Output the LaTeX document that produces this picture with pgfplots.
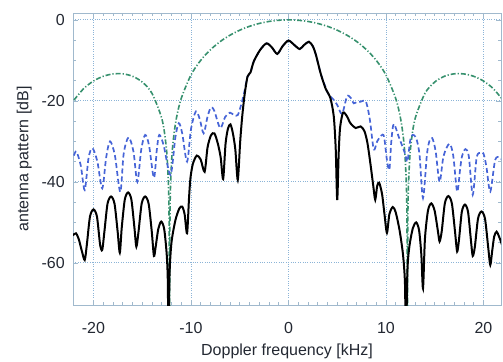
\documentclass[border=0pt]{standalone}
\usepackage{fontspec}
\setmainfont{Liberation Sans}
\usepackage{pgfplots}
\pgfplotsset{compat=1.18}
\definecolor{axcol}{RGB}{160,185,205}
\definecolor{gridcol}{RGB}{140,180,215}
\definecolor{bluedash}{RGB}{70,100,215}
\definecolor{greendd}{RGB}{55,145,110}
\definecolor{txt}{RGB}{35,40,50}
\begin{document}
\fontsize{16bp}{19bp}\selectfont
\begin{tikzpicture}
\useasboundingbox (-73bp,-57bp) rectangle (430bp,305bp);
\begin{axis}[
 at={(0,0)}, anchor=south west,
 scale only axis, width=428bp, height=292bp,
 xmin=-22.1, xmax=21.8, ymin=-70.4, ymax=1.7,
 xtick={-20,-10,0,10,20}, ytick={-60,-40,-20,0},
 minor x tick num=9, minor y tick num=3,
 major tick length=5bp, minor tick length=3bp,
 grid=major, major grid style={dotted, line width=0.9bp, color=gridcol},
 axis line style={color=axcol, line width=0.8bp},
 tick style={color=axcol, line width=0.6bp},
 tick label style={font=\fontsize{16bp}{19bp}\selectfont, text=txt},
 label style={font=\fontsize{16bp}{19bp}\selectfont, text=txt},
 /pgf/number format/assume math mode=true,
 xticklabel style={yshift=-12bp},
 yticklabel style={xshift=-2.7bp},
 xlabel={Doppler frequency [kHz]},
 ylabel={antenna pattern [dB]},
 xlabel style={at={(axis description cs:0.5,0)}, anchor=base, yshift=-50bp},
 ylabel style={at={(axis description cs:-0.1044,0.5)}, anchor=base},
]
% green dash-dot
\addplot[greendd, line width=1.6bp, dash pattern=on 5bp off 2bp on 1.2bp off 2bp, smooth, tension=0.5] coordinates {
(-22,-19.80) (-21,-16.96) (-20,-15.09) (-19,-13.93) (-18,-13.35) (-17,-13.32) (-16,-13.92) (-15,-15.35) (-14,-18.13) (-13,-24.3) (-12.6,-30.0) (-12.4,-35.9) (-12.25,-47.8) (-12.2,-85)
};
\addplot[greendd, line width=1.6bp, dash pattern=on 5bp off 2bp on 1.2bp off 2bp, smooth, tension=0.5] coordinates {
(-12.2,-85) (-12.15,-47.7) (-12.0,-35.5) (-11.8,-29.4) (-11.5,-24.37) (-11,-19.40) (-10,-13.61) (-9,-9.98) (-8,-7.365) (-7,-5.352) (-6,-3.781) (-5,-2.546) (-4,-1.594) (-3,-0.882) (-2,-0.388) (-1,-0.096) (0,0)
(1,-0.096) (2,-0.388) (3,-0.882) (4,-1.594) (5,-2.546) (6,-3.781) (7,-5.352) (8,-7.365) (9,-9.98) (10,-13.61) (11,-19.40) (11.5,-24.37) (11.8,-29.4) (12.0,-35.5) (12.15,-47.7) (12.2,-85)
};
\addplot[greendd, line width=1.6bp, dash pattern=on 5bp off 2bp on 1.2bp off 2bp, smooth, tension=0.5] coordinates {
(12.2,-85) (12.25,-47.8) (12.4,-35.9) (12.6,-30.0) (13,-24.3) (14,-18.13) (15,-15.35) (16,-13.92) (17,-13.32) (18,-13.35) (19,-13.93) (20,-15.09) (21,-16.96) (22,-19.80)
};
% blue dashed
\addplot[bluedash, line width=1.7bp, dash pattern=on 5bp off 3bp, smooth, tension=0.5] coordinates {
(-22.0,-33.5) (-21.75,-32.5) (-21.3,-36) (-20.9,-42) (-20.5,-34) (-20.1,-31.7) (-19.6,-35) (-19.1,-41.6)
(-18.7,-34) (-18.3,-30) (-17.8,-33.5) (-17.25,-42.5) (-16.9,-33) (-16.4,-29) (-15.9,-32.5) (-15.5,-40)
(-15.1,-32) (-14.7,-28.4) (-14.3,-31) (-13.8,-39) (-13.5,-32) (-13.25,-28.4) (-12.8,-31) (-12.1,-38.3)
(-11.6,-29) (-11.25,-25.5) (-10.9,-28) (-10.4,-35) (-10.0,-27) (-9.5,-22.6) (-9.1,-24.5) (-8.7,-28)
(-8.3,-23.9) (-7.95,-21.6) (-7.6,-22.5) (-7.0,-26.7) (-6.5,-24) (-6.0,-22.9) (-5.6,-23.5) (-5.2,-23.5)
(-4.8,-20.5) (-4.5,-17.5) (-4.2,-14.0) (-3.9,-13.0) (-3.55,-10.2) (-2.9,-7.4) (-2.25,-5.8) (-1.7,-6.8)
(-1.15,-8.4) (-0.6,-6.5) (0.0,-5.1) (0.6,-6.2) (1.15,-7.2) (1.6,-6.2) (2.1,-5.4) (2.5,-6.5) (2.8,-8.5)
(3.3,-13.2) (3.8,-16.6) (4.13,-18.5) (4.6,-19.6) (5.0,-21) (5.5,-23.2) (6.0,-18.9) (6.4,-19.3)
(6.7,-20.6) (7.05,-20.2) (7.4,-20.2) (7.9,-20.0) (8.2,-22.6) (8.4,-25.5) (8.75,-32) (9.1,-30)
(9.5,-28.6) (9.8,-28.8) (10.1,-34.6) (10.35,-37) (10.55,-30) (10.8,-25.7) (11.3,-28.8) (11.7,-31.3)
(12.0,-33.3) (12.2,-35) (12.5,-29.6) (12.75,-28.4) (13.0,-28.8) (13.2,-30) (13.45,-33.5) (13.8,-44)
(14.2,-33.3) (14.45,-30) (14.75,-29.2) (15.1,-32.5) (15.5,-40) (15.9,-33.7) (16.5,-30.6) (16.9,-33.5)
(17.3,-42.4) (17.6,-37) (17.8,-33.7) (18.15,-31.9) (18.5,-33.7) (18.9,-43.2) (19.3,-34) (19.7,-32.8)
(20.0,-33) (20.3,-36.2) (20.7,-42.4) (21.2,-34.6) (21.7,-34.0) (22.0,-35)
};
% black solid
\addplot[black, line width=2bp, smooth, tension=0.45] coordinates {
(-22.1,-53.2) (-21.8,-52.7) (-21.5,-54.2) (-21.2,-57) (-20.9,-59.3)
(-20.68,-55.5) (-20.36,-48.6) (-20.0,-46.8) (-19.64,-48.6) (-19.32,-55.5) (-19.1,-56.8)
(-18.88,-52.3) (-18.56,-45.4) (-18.2,-43.6) (-17.84,-45.4) (-17.52,-52.3) (-17.3,-57.5)
(-17.1,-51.3) (-16.79,-44.4) (-16.45,-42.6) (-16.11,-44.4) (-15.8,-51.3) (-15.6,-56)
(-15.38,-52.3) (-15.06,-45.4) (-14.7,-43.6) (-14.34,-45.4) (-14.02,-52.3) (-13.8,-58.3)
(-13.62,-56) (-13.35,-51.6) (-13.05,-49.8) (-12.75,-51.6) (-12.5,-57.5) (-12.38,-64) (-12.3,-80) (-12.2,-63)
(-12.0,-55) (-11.6,-49.5) (-11.2,-46.6) (-10.9,-46.1) (-10.65,-48) (-10.4,-52.7)
(-10.2,-44) (-10.05,-39) (-9.8,-35.5) (-9.4,-33.5) (-9.0,-34.5) (-8.6,-37.5)
(-8.3,-31.5) (-7.95,-28.5) (-7.6,-28) (-7.25,-30.5) (-6.95,-34) (-6.7,-39.3)
(-6.45,-30.5) (-6.2,-26.8) (-5.95,-25.8) (-5.7,-28) (-5.45,-32) (-5.2,-39.5) (-4.95,-30)
(-4.75,-24) (-4.5,-18.5) (-4.2,-14.0) (-3.9,-13.0) (-3.55,-10.2) (-2.9,-7.4) (-2.25,-5.8) (-1.7,-6.8)
(-1.15,-8.4) (-0.6,-6.5) (0.0,-5.1) (0.6,-6.2) (1.15,-7.2) (1.6,-6.2) (2.1,-5.4) (2.5,-6.5) (2.8,-8.5)
(3.3,-13.2) (3.8,-16.9) (4.3,-19.3) (4.65,-23.9) (4.85,-32) (5.0,-44.5) (5.15,-33) (5.3,-26.5) (5.6,-22.9)
(6.0,-23.8) (6.35,-25.5) (6.9,-26.7) (7.4,-26.3) (7.8,-27.5) (8.1,-30.4) (8.4,-35.4) (8.7,-41) (8.9,-44.4)
(9.1,-41) (9.3,-40.2) (9.6,-43) (9.85,-48) (10.1,-52.6) (10.35,-48) (10.7,-46.2) (11.0,-47.5) (11.4,-52)
(11.75,-58) (11.95,-65) (12.05,-80) (12.2,-62) (12.4,-56) (12.75,-51.5) (13.1,-50) (13.4,-52) (13.63,-58) (13.8,-66.3)
(14.0,-54) (14.31,-47.1) (14.65,-45.3) (14.99,-47.1) (15.32,-52) (15.5,-54.7)
(15.72,-52.2) (16.04,-45.3) (16.4,-43.5) (16.76,-45.3) (17.08,-52.2) (17.3,-57.2)
(17.49,-54.3) (17.78,-47.4) (18.1,-45.6) (18.42,-47.4) (18.71,-54.3) (18.9,-58.3)
(19.12,-56) (19.44,-49.1) (19.8,-47.3) (20.16,-49.1) (20.48,-56) (20.7,-60.5)
(20.9,-57) (21.1,-53.5) (21.35,-52.3) (21.6,-53.5) (21.9,-55.5)
};
\end{axis}
\end{tikzpicture}
\end{document}
